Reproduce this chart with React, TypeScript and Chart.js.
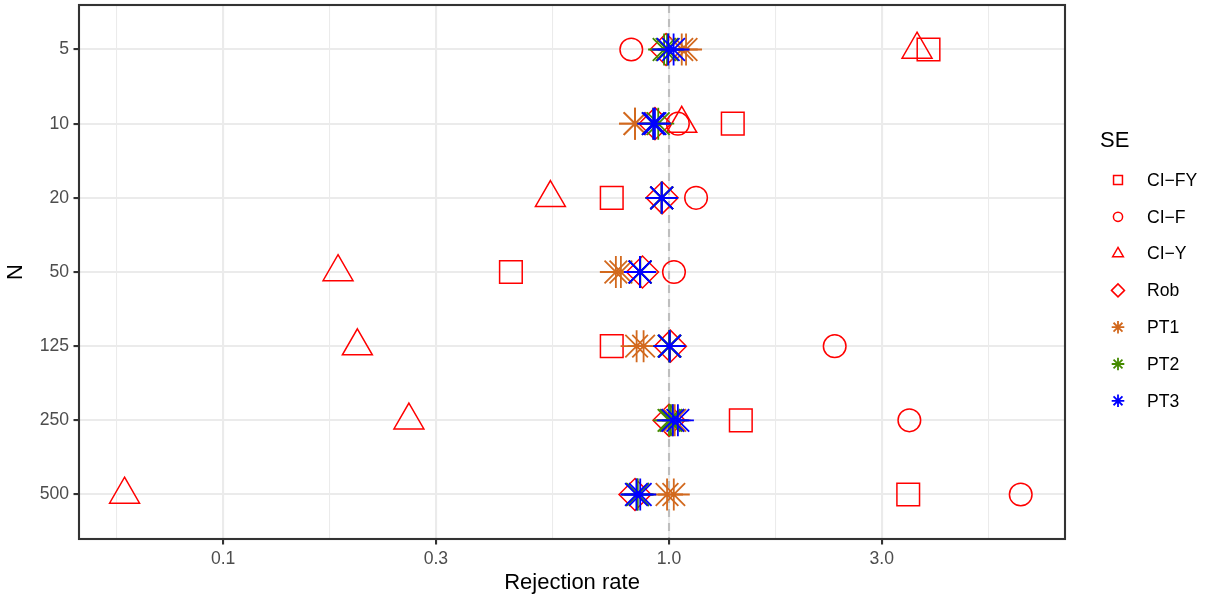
import React, { useEffect, useRef } from 'react';
import { Chart, registerables } from 'chart.js';

Chart.register(...registerables);

// ---- data ----
const nLabels = ['5', '10', '20', '50', '125', '250', '500'];
const seNames = ['CI\u2212FY', 'CI\u2212F', 'CI\u2212Y', 'Rob', 'PT1', 'PT2', 'PT3'];

const ciFY = [3.82, 1.39, 0.744, 0.442, 0.744, 1.449, 3.44];
const ciF = [0.823, 1.047, 1.15, 1.026, 2.353, 3.46, 6.15];
const ciY = [3.6, 1.068, 0.542, 0.181, 0.2, 0.261, 0.0601];
const rob = [0.985, 0.93, 0.965, 0.872, 1.007, 1.0, 0.839];
const pt1a = [1.068, 0.839, 0.963, 0.76, 0.846, 1.02, 0.99];
const pt1b = [1.092, 0.839, 0.963, 0.78, 0.877, 1.03, 1.025];
const pt2a = [0.975, 0.922, 0.963, 0.862, 1.0, 1.0, 0.85];
const pt2b = [0.99, 0.946, 0.963, 0.862, 1.005, 1.01, 0.85];
const pt3a = [0.996, 0.922, 0.963, 0.861, 1.003, 1.02, 0.845];
const pt3b = [1.024, 0.93, 0.963, 0.861, 1.003, 1.047, 0.862];

const majorTicks = [0.1, 0.3, 1, 3];
const majorTickLabels = ['0.1', '0.3', '1.0', '3.0'];
const minorTicks = [0.0577, 0.1732, 0.5477, 1.732, 5.196];
const refLine = 1;

// ---- styles ----
const FONT = '"Liberation Sans", Arial, Helvetica, sans-serif';
const RED = '#FF0000';
const ORANGE = '#D2691E';
const GREEN = '#458B00';
const BLUE = '#0000FF';

const seriesStyles = [
  { color: RED, style: 'rect', r: 16, lr: 6.3, w: 1.5 },
  { color: RED, style: 'circle', r: 11.3, lr: 4.6, w: 1.5 },
  { color: RED, style: 'triangle', r: 17.3, lr: 6.2, w: 1.5 },
  { color: RED, style: 'rectRot', r: 16, lr: 6.5, w: 1.5 },
  { color: ORANGE, style: 'star', r: 16, lr: 6.3, w: 1.8 },
  { color: GREEN, style: 'star', r: 16, lr: 6.3, w: 1.8 },
  { color: BLUE, style: 'star', r: 16, lr: 6.3, w: 1.8 },
];

const seriesValues: number[][][] = [
  [ciFY],
  [ciF],
  [ciY],
  [rob],
  [pt1a, pt1b],
  [pt2a, pt2b],
  [pt3a, pt3b],
];

const isMajor = (v: number | undefined) =>
  v !== undefined && majorTicks.some((m) => Math.abs(m - v) < 1e-9);

function drawShape(ctx: CanvasRenderingContext2D, style: string, x: number, y: number, r: number) {
  ctx.beginPath();
  if (style === 'rect') {
    const h = r * Math.SQRT1_2;
    ctx.rect(x - h, y - h, 2 * h, 2 * h);
  } else if (style === 'circle') {
    ctx.arc(x, y, r, 0, Math.PI * 2);
  } else if (style === 'triangle') {
    for (let k = 0; k < 3; k++) {
      const a = (k * 2 * Math.PI) / 3;
      const px = x + Math.sin(a) * r;
      const py = y - Math.cos(a) * r;
      if (k === 0) ctx.moveTo(px, py);
      else ctx.lineTo(px, py);
    }
    ctx.closePath();
  } else if (style === 'rectRot') {
    ctx.moveTo(x - r, y);
    ctx.lineTo(x, y - r);
    ctx.lineTo(x + r, y);
    ctx.lineTo(x, y + r);
    ctx.closePath();
  } else if (style === 'star') {
    const d = r * Math.SQRT1_2;
    ctx.moveTo(x, y - r);
    ctx.lineTo(x, y + r);
    ctx.moveTo(x - r, y);
    ctx.lineTo(x + r, y);
    ctx.moveTo(x - d, y - d);
    ctx.lineTo(x + d, y + d);
    ctx.moveTo(x - d, y + d);
    ctx.lineTo(x + d, y - d);
  }
  ctx.stroke();
}

const decorPlugin = {
  id: 'decor',
  beforeDatasetsDraw(chart: any) {
    const { ctx, chartArea: a, scales } = chart;
    const x = scales.x.getPixelForValue(refLine);
    ctx.save();
    ctx.strokeStyle = '#BEBEBE';
    ctx.lineWidth = 2.1;
    ctx.setLineDash([8, 6]);
    ctx.beginPath();
    ctx.moveTo(x, a.top);
    ctx.lineTo(x, a.bottom);
    ctx.stroke();
    ctx.restore();
  },
  afterDatasetsDraw(chart: any) {
    const { ctx, chartArea: a } = chart;
    ctx.save();
    ctx.strokeStyle = '#333333';
    ctx.lineWidth = 2.1;
    ctx.strokeRect(a.left, a.top, a.right - a.left, a.bottom - a.top);
    ctx.restore();
  },
  afterDraw(chart: any) {
    const { ctx } = chart;
    ctx.save();
    ctx.fillStyle = '#000000';
    ctx.textBaseline = 'middle';
    ctx.textAlign = 'left';
    ctx.font = `22px ${FONT}`;
    ctx.fillText('SE', 1100, 141);
    ctx.font = `17.6px ${FONT}`;
    seNames.forEach((name, i) => {
      const y = 180 + i * 36.8;
      const s = seriesStyles[i];
      ctx.strokeStyle = s.color;
      ctx.lineWidth = s.w;
      drawShape(ctx, s.style, 1118, y, s.lr);
      ctx.fillStyle = '#000000';
      ctx.fillText(name, 1147, y + 1);
    });
    ctx.restore();
  },
};

export default function App() {
  const ref = useRef<HTMLCanvasElement>(null);

  useEffect(() => {
    const canvas = ref.current;
    if (!canvas) return;

    const datasets = seNames.map((name, i) => {
      const s = seriesStyles[i];
      const data: { x: number; y: number }[] = [];
      seriesValues[i].forEach((arr) => {
        arr.forEach((v, j) => data.push({ x: v, y: j }));
      });
      return {
        label: name,
        data,
        showLine: false,
        pointStyle: s.style,
        pointRadius: s.r,
        pointBorderColor: s.color,
        pointBackgroundColor: 'rgba(0,0,0,0)',
        pointBorderWidth: s.w,
        order: seNames.length - i,
      };
    });

    const chart = new Chart(canvas, {
      type: 'scatter',
      data: { datasets } as any,
      options: {
        animation: false,
        responsive: true,
        maintainAspectRatio: false,
        devicePixelRatio: 1,
        events: [],
        layout: { autoPadding: false, padding: { top: 5, right: 146, bottom: 0, left: 0 } },
        plugins: {
          legend: { display: false },
          tooltip: { enabled: false },
        },
        scales: {
          x: {
            type: 'logarithmic',
            min: 0.0475,
            max: 7.73,
            afterBuildTicks: (s: any) => {
              s.ticks = [...majorTicks, ...minorTicks]
                .sort((a, b) => a - b)
                .map((v) => ({ value: v }));
            },
            afterFit: (s: any) => {
              s.height = 59;
              s.paddingLeft = 0;
              s.paddingRight = 0;
            },
            ticks: {
              autoSkip: false,
              maxRotation: 0,
              padding: 4.4,
              color: '#4D4D4D',
              font: { size: 17.6, family: FONT },
              callback: (v: any) => {
                const k = majorTicks.findIndex((m) => Math.abs(m - Number(v)) < 1e-9);
                return k >= 0 ? majorTickLabels[k] : '';
              },
            },
            grid: {
              color: '#EBEBEB',
              lineWidth: (c: any) => (isMajor(c.tick?.value) ? 2.1 : 1.05),
              tickColor: (c: any) => (isMajor(c.tick?.value) ? '#333333' : 'rgba(0,0,0,0)'),
              tickWidth: 2.1,
              tickLength: 5.5,
            },
            border: { display: false },
            title: {
              display: true,
              text: 'Rejection rate',
              color: '#000000',
              font: { size: 22, family: FONT, lineHeight: 1 },
              padding: { top: 0, bottom: 4 },
            },
          },
          y: {
            type: 'linear',
            reverse: true,
            min: -0.6,
            max: 6.6,
            afterBuildTicks: (s: any) => {
              s.ticks = nLabels.map((_, i) => ({ value: i }));
            },
            afterFit: (s: any) => {
              s.width = 79;
              s.paddingTop = 0;
              s.paddingBottom = 0;
            },
            ticks: {
              autoSkip: false,
              padding: 4.4,
              color: '#4D4D4D',
              font: { size: 17.6, family: FONT },
              callback: (v: any) => nLabels[Number(v)] ?? '',
            },
            grid: {
              color: '#EBEBEB',
              lineWidth: 2.1,
              tickColor: '#333333',
              tickWidth: 2.1,
              tickLength: 5.5,
            },
            border: { display: false },
            title: {
              display: true,
              text: 'N',
              color: '#000000',
              font: { size: 22, family: FONT, lineHeight: 1 },
              padding: { top: 5, bottom: 0 },
            },
          },
        },
      } as any,
      plugins: [decorPlugin],
    });

    return () => chart.destroy();
  }, []);

  return (
    <div
      style={{
        position: 'fixed',
        left: 0,
        top: 0,
        width: 1211,
        height: 598,
        background: '#FFFFFF',
      }}
    >
      <canvas ref={ref} />
    </div>
  );
}
